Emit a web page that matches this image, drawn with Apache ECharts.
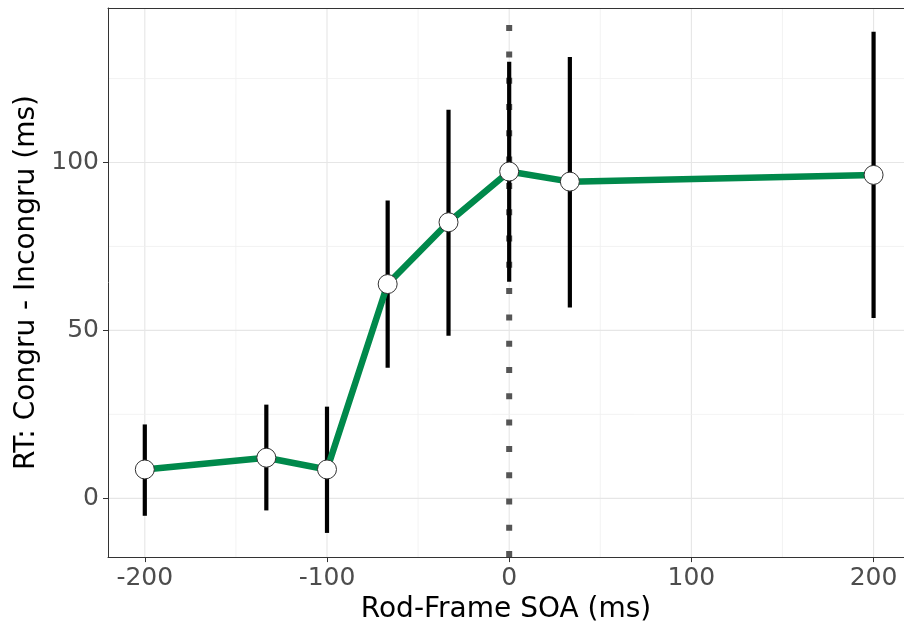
<!DOCTYPE html>
<html>
<head>
<meta charset="utf-8">
<script src="https://cdn.jsdelivr.net/npm/echarts@6/dist/echarts.min.js"></script>
<style>
html,body{margin:0;padding:0;background:#fff;}
#chart{width:904px;height:629px;}
</style>
</head>
<body>
<div id="chart"></div>
<script>
// Data
const soa = [-200, -133.3, -100, -66.7, -33.3, 0, 33.3, 200];
const meanDiff = [8.6, 12.1, 8.6, 63.8, 82.2, 97.3, 94.3, 96.3];
const ciLow = [-5.2, -3.6, -10.3, 38.9, 48.4, 64.5, 56.8, 53.7];
const ciHigh = [22.0, 27.9, 27.3, 88.7, 115.7, 130.0, 131.4, 138.9];

const xMajor = [-200, -100, 0, 100, 200];
const xMinor = [-150, -50, 50, 150];
const yMajor = [0, 50, 100];
const yMinor = [25, 75, 125];
const refLineX = [0];

const xTitle = 'Rod-Frame SOA (ms)';
const yTitle = 'RT: Congru - Incongru (ms)';

const FONT = 'DejaVu Sans';
const X_MIN = -220.2, X_MAX = 216.7, Y_MIN = -17.5, Y_MAX = 146;

const chart = echarts.init(document.getElementById('chart'), null, {renderer: 'canvas'});

// grid line records: [value, orientation(0 = vertical/x, 1 = horizontal/y), major(1)/minor(0)]
const gridData = []
  .concat(xMajor.map(v => [v, 0, 1]))
  .concat(xMinor.map(v => [v, 0, 0]))
  .concat(yMajor.map(v => [v, 1, 1]))
  .concat(yMinor.map(v => [v, 1, 0]));

const axisStyle = {color: '#333333', width: 1};

const option = {
  animation: false,
  backgroundColor: '#ffffff',
  grid: {left: 108, right: 0, top: 8, bottom: 68, containLabel: false},
  xAxis: [{
    type: 'value', min: X_MIN, max: X_MAX, position: 'bottom',
    name: xTitle, nameLocation: 'middle', nameGap: 29,
    nameTextStyle: {fontFamily: FONT, fontSize: 28, color: '#000000'},
    axisLine: {show: true, onZero: false, lineStyle: axisStyle},
    axisTick: {show: true, length: 5, customValues: xMajor, lineStyle: axisStyle},
    axisLabel: {show: true, customValues: xMajor, margin: 9, fontFamily: FONT, fontSize: 25, color: '#4D4D4D'},
    splitLine: {show: false}
  }, {
    type: 'value', min: X_MIN, max: X_MAX, position: 'top',
    axisLine: {show: true, onZero: false, lineStyle: axisStyle},
    axisTick: {show: false}, axisLabel: {show: false}, splitLine: {show: false}
  }],
  yAxis: {
    type: 'value', min: Y_MIN, max: Y_MAX,
    name: yTitle, nameLocation: 'middle', nameGap: 66,
    nameTextStyle: {fontFamily: FONT, fontSize: 28, color: '#000000'},
    axisLine: {show: true, onZero: false, lineStyle: axisStyle},
    axisTick: {show: true, length: 5, customValues: yMajor, lineStyle: axisStyle},
    axisLabel: {show: true, customValues: yMajor, margin: 9, fontFamily: FONT, fontSize: 25, color: '#4D4D4D'},
    splitLine: {show: false}
  },
  series: [
    {
      name: 'grid', type: 'custom', z: 0, silent: true, clip: true,
      data: gridData,
      renderItem: function (params, api) {
        const v = api.value(0), horiz = api.value(1), major = api.value(2);
        const cs = params.coordSys;
        let shape;
        if (horiz) {
          const y = api.coord([X_MIN, v])[1];
          shape = {x1: cs.x, y1: y, x2: cs.x + cs.width, y2: y};
        } else {
          const x = api.coord([v, Y_MIN])[0];
          shape = {x1: x, y1: cs.y, x2: x, y2: cs.y + cs.height};
        }
        return {
          type: 'line', shape: shape, silent: true,
          style: {stroke: major ? '#E6E6E6' : '#F0F0F0', lineWidth: major ? 1.1 : 0.8}
        };
      }
    },
    {
      name: 'ref', type: 'custom', z: 1, silent: true,
      data: refLineX.map(v => [v]),
      renderItem: function (params, api) {
        const cs = params.coordSys;
        const x = api.coord([api.value(0), Y_MIN])[0];
        return {
          type: 'line', silent: true,
          shape: {x1: x, y1: cs.y + cs.height, x2: x, y2: cs.y},
          style: {stroke: '#555555', lineWidth: 6, lineDash: [6, 20.3], lineCap: 'butt'}
        };
      }
    },
    {
      name: 'ci', type: 'custom', z: 2,
      data: soa.map((x, i) => [x, ciLow[i], ciHigh[i]]),
      encode: {x: 0, y: [1, 2]},
      renderItem: function (params, api) {
        const x = api.value(0), lo = api.value(1), hi = api.value(2);
        const p1 = api.coord([x, lo]);
        const p2 = api.coord([x, hi]);
        return {
          type: 'line',
          shape: {x1: p1[0], y1: p1[1], x2: p2[0], y2: p2[1]},
          style: {stroke: '#000000', lineWidth: 4.2, lineCap: 'butt'}
        };
      }
    },
    {
      name: 'mean', type: 'line', z: 3,
      data: soa.map((x, i) => [x, meanDiff[i]]),
      lineStyle: {color: '#00894B', width: 6.5},
      symbol: 'circle', symbolSize: 19, showAllSymbol: true,
      itemStyle: {color: '#ffffff', borderColor: '#333333', borderWidth: 1}
    }
  ]
};
chart.setOption(option);
</script>
</body>
</html>
